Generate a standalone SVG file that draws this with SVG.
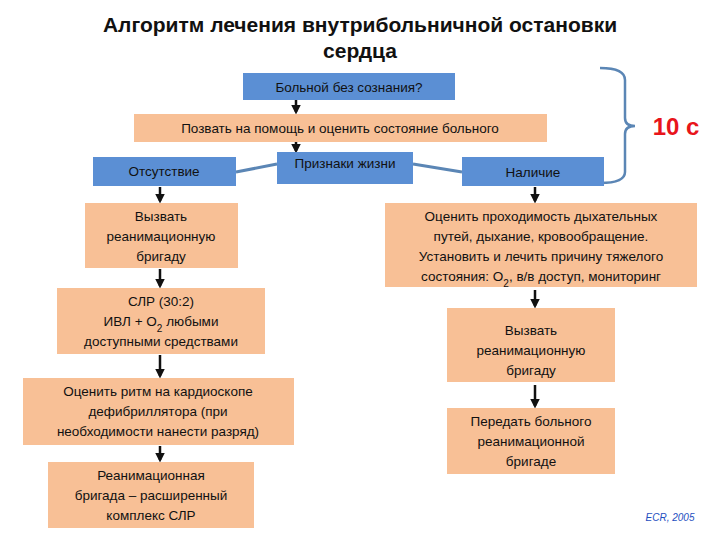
<svg xmlns="http://www.w3.org/2000/svg" width="720" height="540" viewBox="0 0 720 540">
<defs>
<style>
.b{fill:#5b8fd4}
.o{fill:#f8c096}
text{font-family:"Liberation Sans",Arial,sans-serif;font-size:13.5px;fill:#111;text-anchor:middle}
.ar{stroke:#111;stroke-width:2.5;fill:none;marker-end:url(#ah)}
</style>
<marker id="ah" markerWidth="4" markerHeight="4" refX="3" refY="2" orient="auto"><path d="M0,0L4,2L0,4z" fill="#111"/></marker>
</defs>
<rect width="720" height="540" fill="#fff"/>
<text x="360" y="32" style="font-size:21px;font-weight:bold">Алгоритм лечения внутрибольничной остановки</text>
<text x="360" y="58" style="font-size:21px;font-weight:bold">сердца</text>
<g id="connectors">
<path class="ar" d="M296,100V112"/>
<path class="ar" d="M296,142V151"/>
<path d="M236,172L277,164M413,164L462,172" stroke="#5b86b5" stroke-width="3"/>
<path class="ar" d="M160,187V201"/>
<path class="ar" d="M160,269V286"/>
<path class="ar" d="M160,355V376"/>
<path class="ar" d="M160,446V460"/>
<path class="ar" d="M535,187V201"/>
<path class="ar" d="M535,290V306"/>
<path class="ar" d="M535,385V406"/>
<path d="M600,68Q625,68 625,80V118Q625,126 635,126Q625,126 625,134V172Q625,183 600,183" stroke="#5b86b5" stroke-width="2.5" fill="none"/>
</g>
<g id="n1"><rect class="b" x="243" y="73" width="212" height="27"/><text x="349" y="92">Больной без сознания?</text></g>
<g id="n2"><rect class="o" x="134" y="114" width="413" height="28"/><text x="340" y="133">Позвать на помощь и оценить состояние больного</text></g>
<g id="n3"><rect class="b" x="93" y="157" width="143" height="29"/><text x="164" y="176">Отсутствие</text></g>
<g id="n4"><rect class="b" x="277" y="152" width="136" height="32"/><text x="345" y="168">Признаки жизни</text></g>
<g id="n5"><rect class="b" x="462" y="157" width="142" height="29"/><text x="533" y="177">Наличие</text></g>
<g id="n6"><rect class="o" x="85" y="203" width="153" height="65"/><text x="161" y="221">Вызвать</text><text x="161" y="241">реанимационную</text><text x="161" y="261">бригаду</text></g>
<g id="n7"><rect class="o" x="57" y="288" width="208" height="66"/><text x="161" y="306">СЛР (30:2)</text><text x="161" y="326">ИВЛ + О<tspan baseline-shift="sub" font-size="10">2</tspan> любыми</text><text x="161" y="346">доступными средствами</text></g>
<g id="n8"><rect class="o" x="23" y="378" width="271" height="67"/><text x="158" y="396">Оценить ритм на кардиоскопе</text><text x="158" y="416">дефибриллятора (при</text><text x="158" y="436">необходимости нанести разряд)</text></g>
<g id="n9"><rect class="o" x="48" y="462" width="206" height="66"/><text x="151" y="480">Реанимационная</text><text x="151" y="500">бригада – расширенный</text><text x="151" y="520">комплекс СЛР</text></g>
<g id="n10"><rect class="o" x="385" y="203" width="312" height="84"/><text x="541" y="221">Оценить проходимость дыхательных</text><text x="541" y="241">путей, дыхание, кровообращение.</text><text x="541" y="261">Установить и лечить причину тяжелого</text><text x="541" y="281">состояния: О<tspan baseline-shift="sub" font-size="10">2</tspan>, в/в доступ, мониторинг</text></g>
<g id="n11"><rect class="o" x="447" y="308" width="168" height="74"/><text x="531" y="335">Вызвать</text><text x="531" y="355">реанимационную</text><text x="531" y="375">бригаду</text></g>
<g id="n12"><rect class="o" x="447" y="408" width="168" height="66"/><text x="531" y="426">Передать больного</text><text x="531" y="446">реанимационной</text><text x="531" y="466">бригаде</text></g>
<text x="676" y="135" style="font-size:24px;font-weight:bold;fill:#e8141b">10 с</text>
<text x="670" y="521" style="font-size:10px;font-style:italic;fill:#1f4fbf">ECR, 2005</text>
</svg>
